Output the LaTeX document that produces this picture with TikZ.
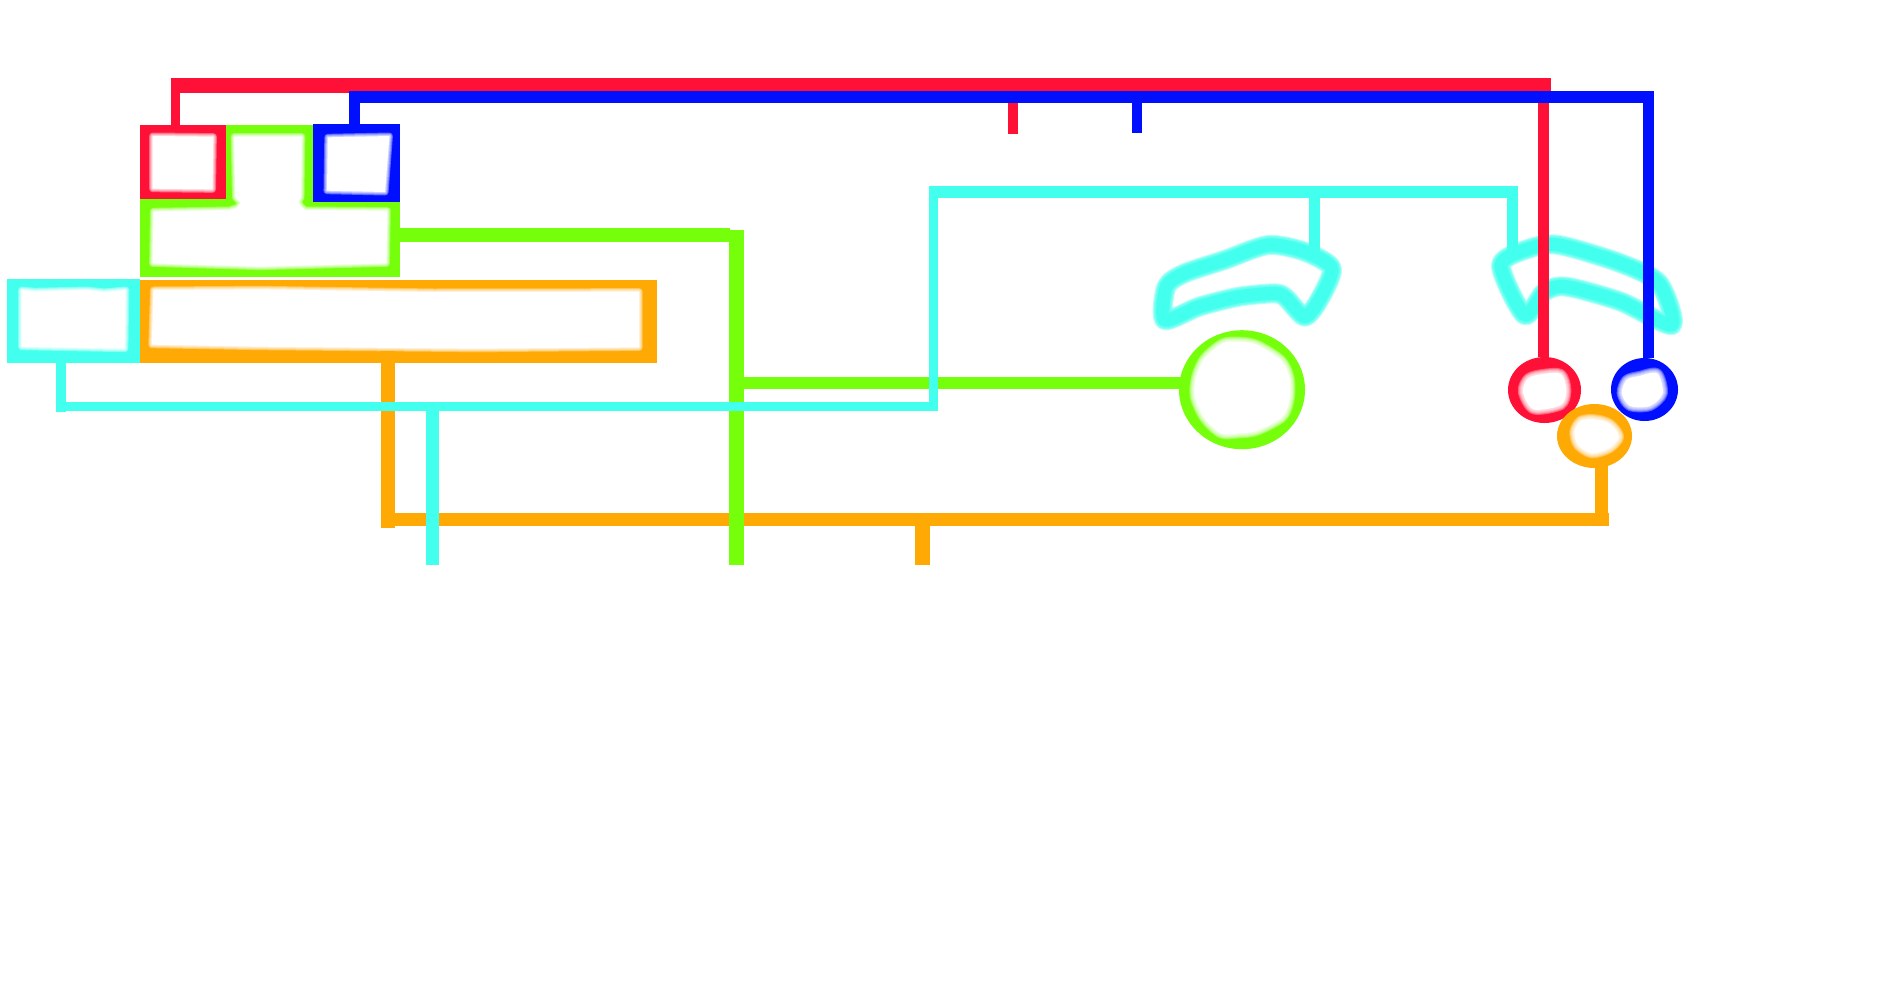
\documentclass[tikz,border=0pt]{standalone}
\usetikzlibrary{shapes.geometric}
\definecolor{cRed}{HTML}{FF1037}
\definecolor{cBlue}{HTML}{0010FF}
\definecolor{cGreen}{HTML}{76FF0A}
\definecolor{cCyan}{HTML}{42FFEE}
\definecolor{cOrange}{HTML}{FFA904}
\tikzset{
  boxnode/.style={rectangle,inner sep=0pt,outer sep=0pt,anchor=north west},
  ringnode/.style={ellipse,inner sep=0pt,outer sep=0pt},
  wire/.style={line cap=butt,line join=miter},
  cropA/.style={shift={(0,60)},xscale=0.43365,yscale=0.33333},
  cropB/.style={shift={(1130,170)},xscale=0.36364,yscale=0.33333}
}
% straight-sided white hollow with a soft edge
\newcommand{\softrect}[1]{%
  \foreach \w in {7,5,3,1.5}{%
    \draw[white,opacity=.36,line width=\w pt,line join=round] plot coordinates {#1} -- cycle;
  }%
  \fill[white] plot coordinates {#1} -- cycle;
}
% rounded white hollow with a soft edge
\newcommand{\softhole}[1]{%
  \foreach \w in {10,8,6,4,2}{%
    \draw[white,opacity=.32,line width=\w pt,line join=round] plot[smooth cycle,tension=.5] coordinates {#1};
  }%
  \fill[white] plot[smooth cycle,tension=.5] coordinates {#1};
}
% soft closed cyan stroke
\newcommand{\softstroke}[1]{%
  \foreach \w in {20,18,16}{%
    \draw[cCyan,opacity=.4,line width=\w pt,line join=round] plot[smooth cycle,tension=.45] coordinates {#1};
  }%
  \draw[cCyan,line width=13pt,line join=round] plot[smooth cycle,tension=.45] coordinates {#1};
}
\begin{document}
\begin{tikzpicture}[x=1pt,y=-1pt]
\useasboundingbox (0,0) rectangle (1902,986);
\fill[white] (0,0) rectangle (1902,986);

% boxes
\node[boxnode,fill=cGreen,minimum width=87pt,minimum height=80pt] (greentop) at (226,125) {};
\node[boxnode,fill=cGreen,minimum width=260pt,minimum height=78pt] (greenbox) at (140,199) {};
\begin{scope}[cropA]
\softrect{(540,230)(696,230)(694,412)(688,425)(694,440)(704,450)(893,452)(891,610)(600,620)(352,610)(354,454)(530,450)(548,442)(555,428)(543,412)}
\end{scope}
\node[boxnode,fill=cRed,minimum width=86pt,minimum height=74pt] (redbox) at (140,125) {};
\node[boxnode,fill=cBlue,minimum width=87pt,minimum height=78pt] (bluebox) at (313,124) {};
\node[boxnode,fill=cCyan,minimum width=133pt,minimum height=83.7pt] (cyanbox) at (7,279) {};
\node[boxnode,fill=cOrange,minimum width=517pt,minimum height=82.7pt] (orangebox) at (140,280) {};
\begin{scope}[cropA]
\softrect{(352,228)(492,230)(490,388)(352,386)}
\softrect{(756,232)(898,228)(888,396)(754,392)}
\softrect{(50,690)(80,694)(200,690)(240,696)(290,690)(288,866)(50,860)}
\softrect{(354,690)(600,688)(1000,696)(1474,695)(1474,862)(1100,866)(600,860)(350,854)}
\end{scope}

% rings
\node[ringnode,fill=cGreen,minimum width=126pt,minimum height=119pt] (greenring) at (1242,389.7) {};
\node[ringnode,fill=cRed,minimum width=73pt,minimum height=66pt] (redring) at (1544.5,390) {};
\node[ringnode,fill=cBlue,minimum width=67pt,minimum height=63pt] (bluering) at (1644.5,389.5) {};
\begin{scope}[cropB]
\softhole{(300,515)(350,525)(415,570)(438,620)(440,680)(420,740)(350,782)(300,790)(250,790)(205,745)(178,680)(182,620)(205,565)(255,520)}
\softhole{(1135,612)(1185,612)(1200,660)(1185,705)(1110,718)(1080,665)(1095,625)}
\softhole{(1400,618)(1450,610)(1465,670)(1430,708)(1375,708)(1352,670)(1365,630)}
\end{scope}
\node[ringnode,fill=cOrange,minimum width=75pt,minimum height=64pt] (orangering) at (1594.5,436) {};
\begin{scope}[cropB]
\softhole{(1280,748)(1320,762)(1345,800)(1318,835)(1270,850)(1232,825)(1222,785)(1240,752)}
\end{scope}

% brows
\begin{scope}[cropB]
\softstroke{(95,450)(100,350)(150,310)(260,270)(380,225)(480,245)(555,295)(520,390)(480,440)(430,385)(400,370)(300,380)(190,410)}
\softstroke{(1020,285)(1085,435)(1140,365)(1200,350)(1350,395)(1490,465)(1455,340)(1350,280)(1180,225)(1100,235)}
\end{scope}

% named free ends
\coordinate (redBarL) at (171,85.3);
\coordinate (redBarR) at (1551,85.3);
\coordinate (redStubA) at (175.5,85.3);
\coordinate (redStubB) at (1013,85.3);
\coordinate (redStubBend) at (1013,134);
\coordinate (redDown) at (1543.5,85.3);
\coordinate (blueBarL) at (349,97);
\coordinate (blueBarR) at (1654,97);
\coordinate (blueStubA) at (354.5,97);
\coordinate (blueStubB) at (1137,94);
\coordinate (blueStubBend) at (1137,133);
\coordinate (blueDown) at (1648.5,97);
\coordinate (orangeTop) at (388,351);
\coordinate (orangeLow) at (388,528);
\coordinate (orangeL) at (381,519.5);
\coordinate (orangeR) at (1609,519.5);
\coordinate (orangeUp) at (1601.5,526);
\coordinate (orangeJoin) at (1601.5,460);
\coordinate (orangeDrop) at (922.5,519.5);
\coordinate (orangeDropEnd) at (922.5,565);
\coordinate (greenA) at (730,235);
\coordinate (greenVtop) at (736.5,230);
\coordinate (greenVend) at (736.5,565);
\coordinate (greenB) at (729,383);
\coordinate (greenC) at (1189,383);
\coordinate (cyanA) at (61,412);
\coordinate (cyanL) at (56,406.5);
\coordinate (cyanR) at (938,406.5);
\coordinate (cyanVbot) at (933.5,411);
\coordinate (cyanVtop) at (933.5,186);
\coordinate (cyanTopL) at (929,192);
\coordinate (cyanTopR) at (1518,192);
\coordinate (cyanRight) at (1512.5,186);
\coordinate (cyanRightEnd) at (1512.5,256);
\coordinate (cyanMid) at (1314.5,192);
\coordinate (cyanMidEnd) at (1314.5,260);
\coordinate (cyanDrop) at (432.5,406);
\coordinate (cyanDropEnd) at (432.5,565);

% orange wires
\draw[wire,cOrange,line width=14pt] (orangeTop) -- (orangeLow);
\draw[wire,cOrange,line width=13pt] (orangeL) -- (orangeR);
\draw[wire,cOrange,line width=13pt] (orangeUp) -- (orangeJoin);
\draw[wire,cOrange,line width=15pt] (orangeDrop) -- (orangeDropEnd);

% green wires
\draw[wire,cGreen,line width=14pt] (greenbox.east |- greenA) -- (greenA);
\draw[wire,cGreen,line width=15pt] (greenVtop) -- (greenVend);
\draw[wire,cGreen,line width=12pt] (greenB) -- (greenC);

% cyan wires
\draw[wire,cCyan,line width=10pt] (cyanbox.south -| cyanA) -- (cyanA);
\draw[wire,cCyan,line width=9pt] (cyanL) -- (cyanR);
\draw[wire,cCyan,line width=9.5pt] (cyanVbot) -- (cyanVtop);
\draw[wire,cCyan,line width=12pt] (cyanTopL) -- (cyanTopR);
\draw[wire,cCyan,line width=11pt] (cyanRight) -- (cyanRightEnd);
\draw[wire,cCyan,line width=11pt] (cyanMid) -- (cyanMidEnd);
\draw[wire,cCyan,line width=13pt] (cyanDrop) -- (cyanDropEnd);

% red wires
\draw[wire,cRed,line width=14.7pt] (redBarL) -- (redBarR);
\draw[wire,cRed,line width=9pt] (redStubA) -- (redStubA |- redbox.north);
\draw[wire,cRed,line width=10pt] (redStubB) -- (redStubBend);
\draw[wire,cRed,line width=11pt] (redDown) -- (redDown |- redring.north);

% blue wires
\draw[wire,cBlue,line width=12pt] (blueBarL) -- (blueBarR);
\draw[wire,cBlue,line width=11pt] (blueStubA) -- (blueStubA |- bluebox.north);
\draw[wire,cBlue,line width=10pt] (blueStubB) -- (blueStubBend);
\draw[wire,cBlue,line width=11pt] (blueDown) -- (blueDown |- bluering.north);
\end{tikzpicture}
\end{document}
